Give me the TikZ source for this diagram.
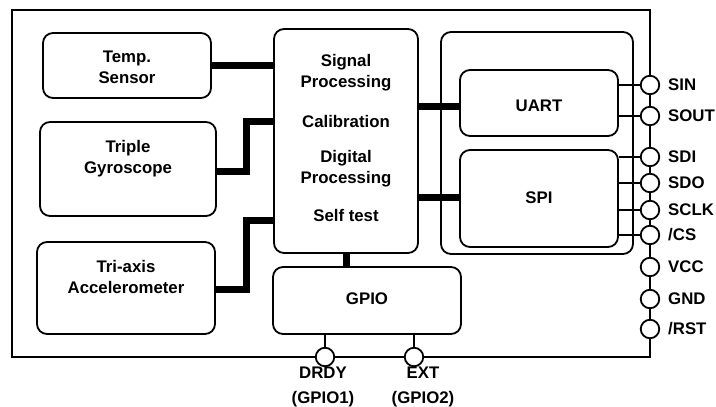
\documentclass[tikz,border=0pt]{standalone}
\usepackage{fontspec}
\setmainfont{Liberation Sans}
\begin{document}
\begin{tikzpicture}[x=1pt,y=-1pt,
  lbl/.style={font=\fontsize{16.8}{20.5}\selectfont\bfseries, align=center, inner sep=0pt},
  box/.style={draw, line width=1.8pt, rounded corners=10pt, inner sep=0pt},
  frame/.style={draw, line width=1.8pt, inner sep=0pt},
  bus/.style={line width=7pt, line join=miter},
  wire/.style={line width=1.6pt},
  pin/.style={draw, circle, line width=1.8pt, fill=white, minimum size=18.5pt, inner sep=0pt},
  pinlbl/.style={lbl, anchor=west}]
\useasboundingbox (0,0) rectangle (716,407);
% chip frame
\node[frame, minimum width=638pt, minimum height=347pt] (chip) at (331,183.5) {};
% sensor blocks
\node[box, minimum width=168pt, minimum height=65pt] (temp) at (127,65.5) {};
\node[lbl] (tempt) at (127,67.5) {Temp.\\Sensor};
\node[box, minimum width=176pt, minimum height=94pt] (gyro) at (128,169) {};
\node[lbl] (gyrot) at (128,158.5) {Triple\\Gyroscope};
\node[box, minimum width=178pt, minimum height=92pt] (acc) at (126,288) {};
\node[lbl] (acct) at (126,277) {Tri-axis\\Accelerometer};
% processing
\node[box, minimum width=144pt, minimum height=224pt] (proc) at (346,141) {};
\node[lbl] (p1) at (346,72.5) {Signal\\Processing};
\node[lbl] (p2) at (346,121) {Calibration};
\node[lbl] (p3) at (346,168.5) {Digital\\Processing};
\node[lbl] (p4) at (346,215) {Self test};
% GPIO
\node[box, minimum width=188pt, minimum height=67pt] (gpio) at (367,300.5) {};
\node[lbl] (gpiot) at (367,299) {GPIO};
% interface
\node[box, minimum width=192pt, minimum height=222pt] (iface) at (537,143) {};
\node[box, minimum width=158pt, minimum height=66pt] (uart) at (539,103) {};
\node[lbl] (uartt) at (539,106) {UART};
\node[box, minimum width=158pt, minimum height=97pt] (spi) at (539,198.5) {};
\node[lbl] (spit) at (539,198) {SPI};
% thick buses
\draw[bus] (temp.east) -- (temp.east -| proc.west);
\coordinate (g1) at (246,171);
\coordinate (g2) at (246,121);
\draw[bus] (gyro.east |- g1) -- (g1) -- (g2) -- (g2 -| proc.west);
\coordinate (a1) at (246,289);
\coordinate (a2) at (246,220);
\draw[bus] (acc.east |- a1) -- (a1) -- (a2) -- (a2 -| proc.west);
\coordinate (u1) at (418,106);
\draw[bus] (proc.east |- u1) -- (uart.west |- u1);
\coordinate (s1) at (418,197);
\draw[bus] (proc.east |- s1) -- (spi.west |- s1);
\draw[bus] (proc.south -| gpio.north) ++(-21,0) coordinate (gp1) -- (gp1 |- gpio.north);
% right pins
\foreach \n/\y in {sin/85, sout/116, sdi/157, sdo/183, sclk/210, cs/235, vcc/267, gnd/299, rst/329} {
  \coordinate (\n c) at (650,\y);
}
\foreach \n in {sin,sout} { \draw[wire] (\n c -| uart.east) -- (\n c); }
\foreach \n in {sdi,sdo,sclk,cs} { \draw[wire] (\n c -| spi.east) -- (\n c); }
\foreach \n/\y/\t in {sin/85/SIN, sout/116/SOUT, sdi/157/SDI, sdo/183/SDO, sclk/210/SCLK, cs/235/{/CS}, vcc/267/VCC, gnd/299/GND, rst/329/{/RST}} {
  \node[pin] (\n) at (\n c) {};
  \node[pinlbl] (\n l) at (668,\y) {\t};
}
% bottom pins
\coordinate (dc) at (325,357);
\coordinate (ec) at (414,357);
\draw[wire] (dc |- gpio.south) -- (dc);
\draw[wire] (ec |- gpio.south) -- (ec);
\node[pin] (drdy) at (dc) {};
\node[pin] (ext) at (ec) {};
\node[lbl] (drdyl) at (323,373) {DRDY};
\node[lbl] (gpio1l) at (323,399) {(GPIO1)};
\node[lbl] (extl) at (423,373) {EXT};
\node[lbl] (gpio2l) at (423,399) {(GPIO2)};
\end{tikzpicture}
\end{document}
